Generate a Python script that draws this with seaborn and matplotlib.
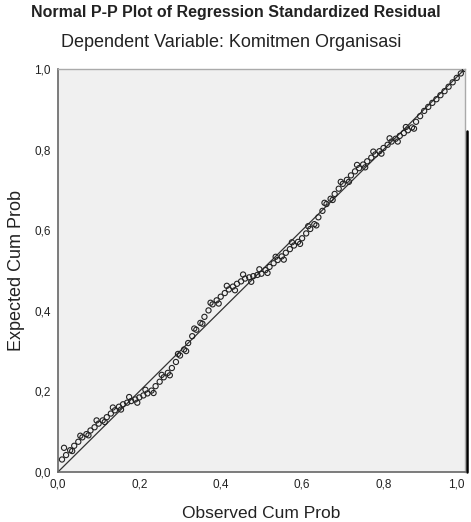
import matplotlib
matplotlib.use("Agg")
import matplotlib.pyplot as plt
from matplotlib.lines import Line2D
import seaborn as sns
import pandas as pd

title = "Normal P-P Plot of Regression Standardized Residual"
subtitle = "Dependent Variable: Komitmen Organisasi"
x_label = "Observed Cum Prob"
y_label = "Expected Cum Prob"
tick_values = [0.0, 0.2, 0.4, 0.6, 0.8, 1.0]
tick_labels = ["0,0", "0,2", "0,4", "0,6", "0,8", "1,0"]
ref_line = [0.0, 1.0]

observed = [0.01, 0.02, 0.03, 0.04, 0.05, 0.06, 0.07, 0.08, 0.09, 0.10,
            0.11, 0.12, 0.13, 0.14, 0.15, 0.16, 0.17, 0.18, 0.19, 0.20,
            0.21, 0.22, 0.23, 0.24, 0.25, 0.26, 0.27, 0.28, 0.29, 0.30,
            0.31, 0.32, 0.33, 0.34, 0.35, 0.36, 0.37, 0.38, 0.39, 0.40,
            0.41, 0.42, 0.43, 0.44, 0.45, 0.46, 0.47, 0.48, 0.49, 0.50,
            0.51, 0.52, 0.53, 0.54, 0.55, 0.56, 0.57, 0.58, 0.59, 0.60,
            0.61, 0.62, 0.63, 0.64, 0.65, 0.66, 0.67, 0.68, 0.69, 0.70,
            0.71, 0.72, 0.73, 0.74, 0.75, 0.76, 0.77, 0.78, 0.79, 0.80,
            0.81, 0.82, 0.83, 0.84, 0.85, 0.86, 0.87, 0.88, 0.89, 0.90,
            0.91, 0.92, 0.93, 0.94, 0.95, 0.96, 0.97, 0.98, 0.99, 1.00]
expected = [0.031, 0.042, 0.054, 0.065, 0.075, 0.086, 0.094, 0.103, 0.111, 0.120,
            0.128, 0.136, 0.145, 0.153, 0.162, 0.168, 0.172, 0.176, 0.180, 0.185,
            0.190, 0.195, 0.202, 0.213, 0.224, 0.235, 0.246, 0.258, 0.273, 0.289,
            0.304, 0.320, 0.337, 0.353, 0.370, 0.385, 0.401, 0.416, 0.426, 0.435,
            0.444, 0.453, 0.460, 0.467, 0.473, 0.480, 0.483, 0.486, 0.489, 0.492,
            0.501, 0.509, 0.518, 0.526, 0.535, 0.544, 0.553, 0.562, 0.571, 0.580,
            0.592, 0.603, 0.615, 0.632, 0.648, 0.665, 0.678, 0.690, 0.703, 0.715,
            0.725, 0.736, 0.746, 0.754, 0.763, 0.771, 0.780, 0.788, 0.796, 0.804,
            0.812, 0.820, 0.827, 0.834, 0.841, 0.848, 0.855, 0.869, 0.883, 0.896,
            0.906, 0.916, 0.925, 0.935, 0.945, 0.956, 0.967, 0.978, 0.989, 1.000]

observed_extra = [0.015, 0.035, 0.055, 0.075, 0.095, 0.115, 0.135, 0.155, 0.175, 0.195,
                  0.215, 0.235, 0.255, 0.275, 0.295, 0.315, 0.335, 0.355, 0.375, 0.395,
                  0.415, 0.435, 0.455, 0.475, 0.495, 0.515, 0.535, 0.555, 0.575, 0.595,
                  0.615, 0.635, 0.655, 0.675, 0.695, 0.715, 0.735, 0.755, 0.775, 0.795,
                  0.815, 0.835, 0.855, 0.875]
expected_extra = [0.060, 0.052, 0.090, 0.091, 0.128, 0.124, 0.160, 0.155, 0.186, 0.172,
                  0.204, 0.196, 0.241, 0.240, 0.293, 0.300, 0.356, 0.368, 0.420, 0.418,
                  0.462, 0.451, 0.490, 0.472, 0.503, 0.494, 0.534, 0.527, 0.570, 0.566,
                  0.610, 0.612, 0.668, 0.675, 0.720, 0.720, 0.762, 0.756, 0.795, 0.790,
                  0.828, 0.820, 0.856, 0.852]

sns.set_style("white")
plt.rcParams["font.family"] = ["Liberation Sans", "DejaVu Sans"]

fig = plt.figure(figsize=(4.71, 5.22), dpi=100)
ax = fig.add_axes([0.123, 0.0958, 0.864, 0.772])
ax.set_facecolor("#f0f0f0")

df = pd.DataFrame({"obs": observed + observed_extra,
                   "exp": expected + expected_extra})
sns.lineplot(x=ref_line, y=ref_line, ax=ax, color="#333333", linewidth=0.9)
sns.scatterplot(data=df, x="obs", y="exp", ax=ax, marker="o", s=14,
                facecolors="none", edgecolor="#222222", linewidth=0.8, zorder=3)

ax.set_xlim(0, 1)
ax.set_ylim(0, 1)
ax.set_xticks(tick_values)
ax.set_xticklabels(tick_labels, fontsize=8.5)
ax.set_yticks(tick_values)
ax.set_yticklabels(tick_labels, fontsize=8.5)
ax.get_xticklabels()[-1].set_horizontalalignment("right")
ax.tick_params(axis="both", length=3, width=0.8, color="#555555", direction="out",
               pad=2, labelcolor="#222222")
ax.set_xlabel(x_label, fontsize=12.5, color="#222222")
ax.set_ylabel(y_label, fontsize=13, color="#222222")
ax.xaxis.set_label_coords(0.5, -0.102)
ax.yaxis.set_label_coords(-0.103, 0.5)
ax.xaxis.label.set_verticalalignment("center")
ax.yaxis.label.set_verticalalignment("center")

for side in ["left", "bottom"]:
    ax.spines[side].set_color("#666666")
    ax.spines[side].set_linewidth(1.2)
for side in ["top", "right"]:
    ax.spines[side].set_color("#aaaaaa")
    ax.spines[side].set_linewidth(1.0)

fig.text(0.5, 0.977, title, ha="center", va="center", fontsize=11.5,
         fontweight="bold", color="#222222")
fig.text(0.49, 0.919, subtitle, ha="center", va="center", fontsize=13,
         color="#222222")

fig.add_artist(Line2D([0.991, 0.991], [0.0958, 0.749], color="black",
                      linewidth=1.8, transform=fig.transFigure))

fig.savefig("out.png", dpi=100)
